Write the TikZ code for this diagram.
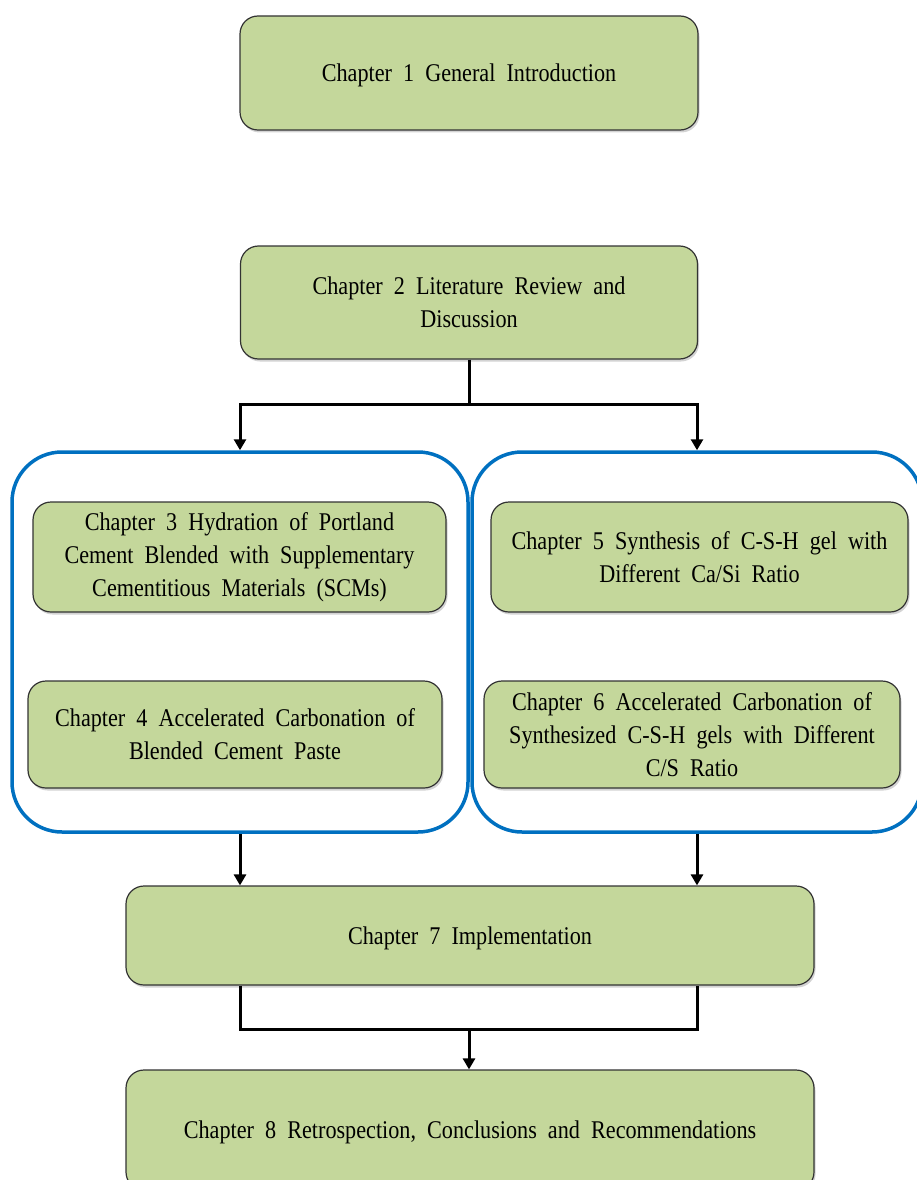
\documentclass[tikz,border=0pt]{standalone}
\usepackage{fontspec}
\setmainfont{Liberation Serif}[FakeStretch=0.87, WordSpace=2.0]
\usetikzlibrary{arrows.meta}
\usetikzlibrary{shadows}

\definecolor{chapgreen}{RGB}{196,215,155}
\definecolor{groupblue}{RGB}{0,112,192}

\tikzset{
  chap/.style={draw=black!80, line width=1.2pt, fill=chapgreen, rounded corners=18pt,
    align=center, inner sep=0pt, font=\fontsize{25.5}{33}\selectfont,
    drop shadow={shadow xshift=1.5pt, shadow yshift=-2.5pt, opacity=0.35}},
  group/.style={draw=groupblue, line width=3.5pt, rounded corners=50pt, inner sep=0pt},
  link/.style={line width=3pt, -{Triangle[length=11pt,width=12pt]}},
}

\begin{document}
\begin{tikzpicture}[x=1pt, y=-1pt]
  \useasboundingbox (0,0) rectangle (916,1180);
  % the two groups of chapters
  \node[group, minimum width=456pt, minimum height=380pt] (grpL) at (240,642) {};
  \node[group, minimum width=450pt, minimum height=380pt] (grpR) at (697,642) {};
  % chapters (one-line texts set a little low, as in the original)
  \node[chap, minimum width=458pt, minimum height=114pt, text depth=-3pt] (ch1) at (469,73) {Chapter 1 General Introduction};
  \node[chap, minimum width=457pt, minimum height=113pt] (ch2) at (469,302.5) {Chapter 2 Literature Review and\\Discussion};
  \node[chap, minimum width=413pt, minimum height=110pt] (ch3) at (239.5,557) {Chapter 3 Hydration of Portland\\Cement Blended with Supplementary\\Cementitious Materials (SCMs)};
  \node[chap, minimum width=414pt, minimum height=107pt] (ch4) at (235,734.5) {Chapter 4 Accelerated Carbonation of\\Blended Cement Paste};
  \node[chap, minimum width=417pt, minimum height=110pt] (ch5) at (699.5,557) {Chapter 5 Synthesis of C-S-H gel with\\Different Ca/Si Ratio};
  \node[chap, minimum width=416pt, minimum height=107pt] (ch6) at (692,734.5) {Chapter 6 Accelerated Carbonation of\\Synthesized C-S-H gels with Different\\C/S Ratio};
  \node[chap, minimum width=688pt, minimum height=99pt, text depth=-3pt] (ch7) at (470,935.5) {Chapter 7 Implementation};
  \node[chap, minimum width=688pt, minimum height=120pt, text depth=-3pt] (ch8) at (470,1130) {Chapter 8 Retrospection, Conclusions and Recommendations};
  % connectors
  \coordinate (split) at (469,404);
  \coordinate (merge) at (469,1029);
  \draw[link] (ch2.south) -- (split) -| (grpL.north);
  \draw[link] (split) -| (grpR.north);
  \draw[link] (grpL.south) -- (grpL.south |- ch7.north);
  \draw[link] (grpR.south) -- (grpR.south |- ch7.north);
  \draw[line width=3pt] (ch7.south -| grpL.south) |- (merge) -| (ch7.south -| grpR.south);
  \draw[link] (merge) -- (merge |- ch8.north);
\end{tikzpicture}
\end{document}
